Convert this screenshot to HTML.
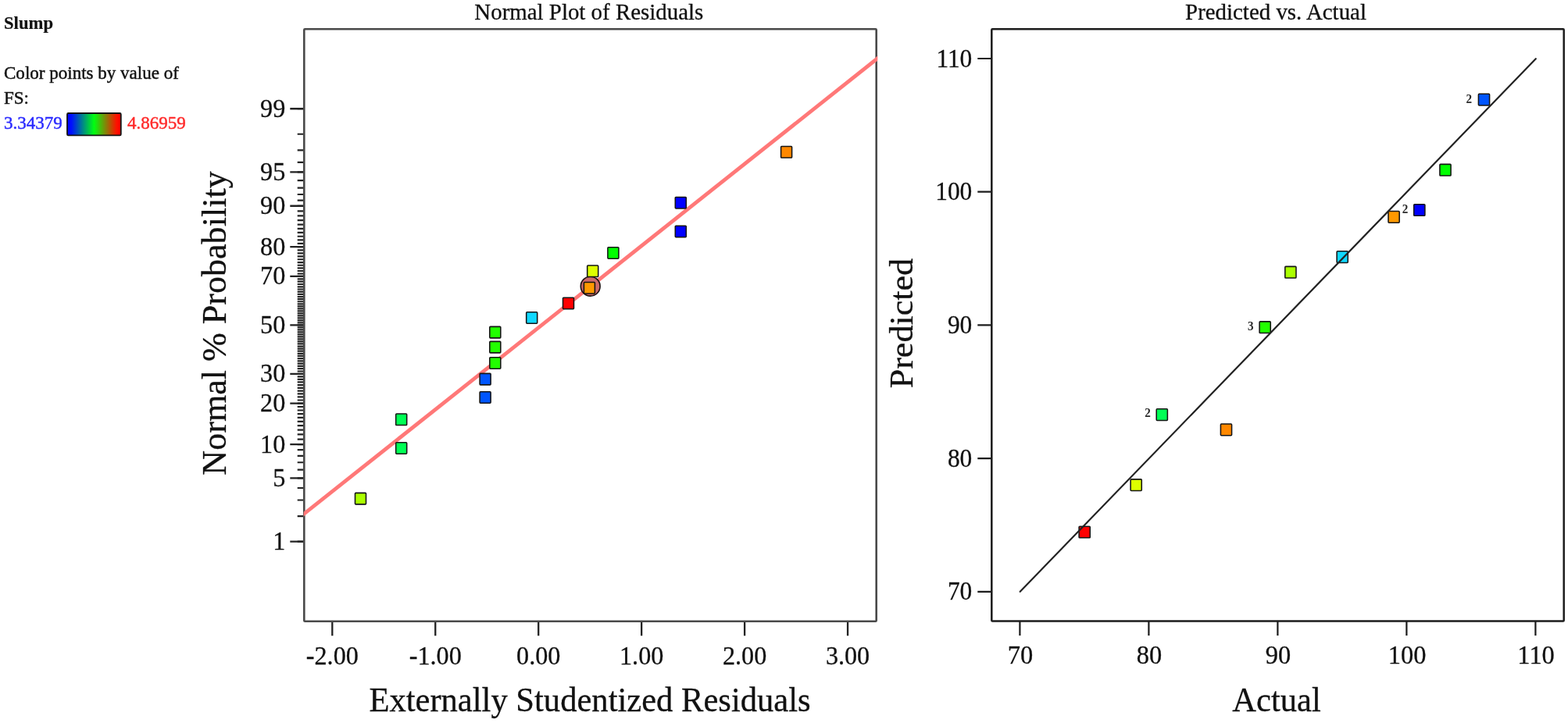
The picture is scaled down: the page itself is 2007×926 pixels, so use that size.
<!DOCTYPE html>
<html lang="en"><head><meta charset="utf-8"><title>Diagnostics: Slump</title>
<style>
html,body{margin:0;padding:0;background:#fff;}
body{width:2007px;height:926px;overflow:hidden;position:relative;font-family:"Liberation Serif", serif;}
svg{position:absolute;left:0;top:0;display:block;}
text{font-family:"Liberation Serif", serif;fill:#111;stroke:#111;stroke-width:.3px;stroke-linejoin:round;}
.tk{font-size:32.2px;}
.tr{font-size:32.5px;}
.ty{font-size:31.4px;}
.ax{font-size:42.6px;}
.tt{font-size:28.9px;}
.lg{font-size:23.05px;stroke-width:.45px;}
.ct{font-size:15.2px;font-weight:bold;fill:#2a2a2a;stroke:none;}
</style></head><body>
<svg width="2007" height="926" viewBox="0 0 2007 926">
<defs>
<linearGradient id="g" x1="0" y1="0" x2="1" y2="0">
<stop offset="0" stop-color="#0000ff"/><stop offset="0.08" stop-color="#0010ff"/><stop offset="0.5" stop-color="#00ff10"/><stop offset="0.92" stop-color="#ff1000"/><stop offset="1" stop-color="#ff0000"/>
</linearGradient>
</defs>
<rect width="2007" height="926" fill="#fff"/>

<text class="lg" transform="translate(5.00 36.80) scale(1 1.04)" style="font-weight:bold;font-size:22.7px;stroke-width:.2px">Slump</text>
<text class="lg" transform="translate(5.00 101.20) scale(1 1.04)">Color points by value of</text>
<text class="lg" transform="translate(5.00 133.40) scale(1 1.04)">FS:</text>
<text class="lg" transform="translate(5.00 164.80) scale(1 1.04)" style="fill:#2a2aff;stroke:#2a2aff">3.34379</text>
<rect x="86.0" y="145.0" width="68.8" height="28.4" rx="1.5" fill="url(#g)" stroke="#151515" stroke-width="1.8"/>
<text class="lg" transform="translate(163.00 164.80) scale(1 1.04)" style="fill:#ff2a2a;stroke:#ff2a2a">4.86959</text>
<text class="tt" transform="translate(753.80 25.20) scale(1 1.0)" text-anchor="middle">Normal Plot of Residuals</text>
<clipPath id="cl"><rect x="388.7" y="37.3" width="734.6000000000001" height="758.4000000000001"/></clipPath>
<path d="M380.70 693.58H389.30M380.70 661.10H389.30M380.70 640.50H389.30M380.70 625.00H389.30M380.70 612.39H389.30M380.70 601.66H389.30M380.70 592.25H389.30M380.70 583.82H389.30M380.70 576.16H389.30M380.70 569.10H389.30M380.70 562.55H389.30M380.70 556.41H389.30M380.70 550.62H389.30M380.70 545.13H389.30M380.70 539.90H389.30M380.70 534.90H389.30M380.70 530.10H389.30M380.70 525.48H389.30M380.70 521.01H389.30M380.70 516.69H389.30M380.70 512.50H389.30M380.70 508.42H389.30M380.70 504.45H389.30M380.70 500.57H389.30M380.70 496.78H389.30M380.70 493.07H389.30M380.70 489.43H389.30M380.70 485.86H389.30M380.70 482.35H389.30M380.70 478.90H389.30M380.70 475.50H389.30M380.70 472.14H389.30M380.70 468.83H389.30M380.70 465.56H389.30M380.70 462.33H389.30M380.70 459.13H389.30M380.70 455.96H389.30M380.70 452.81H389.30M380.70 449.70H389.30M380.70 446.60H389.30M380.70 443.53H389.30M380.70 440.47H389.30M380.70 437.43H389.30M380.70 434.41H389.30M380.70 431.39H389.30M380.70 428.39H389.30M380.70 425.39H389.30M380.70 422.40H389.30M380.70 419.41H389.30M380.70 416.42H389.30M380.70 413.43H389.30M380.70 410.44H389.30M380.70 407.45H389.30M380.70 404.45H389.30M380.70 401.45H389.30M380.70 398.43H389.30M380.70 395.41H389.30M380.70 392.37H389.30M380.70 389.31H389.30M380.70 386.24H389.30M380.70 383.14H389.30M380.70 380.03H389.30M380.70 376.88H389.30M380.70 373.71H389.30M380.70 370.51H389.30M380.70 367.28H389.30M380.70 364.01H389.30M380.70 360.70H389.30M380.70 357.34H389.30M380.70 353.94H389.30M380.70 350.49H389.30M380.70 346.98H389.30M380.70 343.41H389.30M380.70 339.77H389.30M380.70 336.06H389.30M380.70 332.27H389.30M380.70 328.39H389.30M380.70 324.42H389.30M380.70 320.34H389.30M380.70 316.15H389.30M380.70 311.83H389.30M380.70 307.36H389.30M380.70 302.74H389.30M380.70 297.94H389.30M380.70 292.94H389.30M380.70 287.71H389.30M380.70 282.22H389.30M380.70 276.43H389.30M380.70 270.29H389.30M380.70 263.74H389.30M380.70 256.68H389.30M380.70 249.02H389.30M380.70 240.59H389.30M380.70 231.18H389.30M380.70 220.45H389.30M380.70 207.84H389.30M380.70 192.34H389.30M380.70 171.74H389.30M380.70 139.26H389.30" stroke="#222" stroke-width="2.2" fill="none"/>
<text class="tk" transform="translate(365.30 703.98) scale(1 1.07)" text-anchor="end">1</text>
<text class="tk" transform="translate(365.30 622.79) scale(1 1.07)" text-anchor="end">5</text>
<text class="tk" transform="translate(365.30 579.50) scale(1 1.07)" text-anchor="end">10</text>
<text class="tk" transform="translate(365.30 527.09) scale(1 1.07)" text-anchor="end">20</text>
<text class="tk" transform="translate(365.30 489.30) scale(1 1.07)" text-anchor="end">30</text>
<text class="tk" transform="translate(365.30 426.82) scale(1 1.07)" text-anchor="end">50</text>
<text class="tk" transform="translate(365.30 364.34) scale(1 1.07)" text-anchor="end">70</text>
<text class="tk" transform="translate(365.30 326.55) scale(1 1.07)" text-anchor="end">80</text>
<text class="tk" transform="translate(365.30 274.14) scale(1 1.07)" text-anchor="end">90</text>
<text class="tk" transform="translate(365.30 230.85) scale(1 1.07)" text-anchor="end">95</text>
<text class="tk" transform="translate(365.30 149.66) scale(1 1.07)" text-anchor="end">99</text>
<path d="M371.30 693.58H389.30M371.30 612.39H389.30M371.30 569.10H389.30M371.30 516.69H389.30M371.30 478.90H389.30M371.30 416.42H389.30M371.30 353.94H389.30M371.30 316.15H389.30M371.30 263.74H389.30M371.30 220.45H389.30M371.30 139.26H389.30" stroke="#222" stroke-width="2.3" fill="none"/>
<text class="tk" transform="translate(425.30 850.80) scale(1 1.07)" text-anchor="middle">-2.00</text>
<text class="tk" transform="translate(557.25 850.80) scale(1 1.07)" text-anchor="middle">-1.00</text>
<text class="tk" transform="translate(689.20 850.80) scale(1 1.07)" text-anchor="middle">0.00</text>
<text class="tk" transform="translate(821.15 850.80) scale(1 1.07)" text-anchor="middle">1.00</text>
<text class="tk" transform="translate(953.10 850.80) scale(1 1.07)" text-anchor="middle">2.00</text>
<text class="tk" transform="translate(1085.05 850.80) scale(1 1.07)" text-anchor="middle">3.00</text>
<path d="M425.30 795.7V814.2M557.25 795.7V814.2M689.20 795.7V814.2M821.15 795.7V814.2M953.10 795.7V814.2M1085.05 795.7V814.2" stroke="#222" stroke-width="2.3" fill="none"/>
<rect x="389.3" y="37.3" width="732.40" height="758.40" rx="1" fill="none" stroke="#4a4a4a" stroke-width="2.6"/>
<line x1="384.3" y1="661.97" x2="1126.7" y2="72.03" stroke="#ff7878" stroke-width="4.8" clip-path="url(#cl)"/>
<text class="ax" transform="translate(755.00 911.30) scale(1 1.055)" text-anchor="middle">Externally Studentized Residuals</text>
<text class="ax" transform="translate(289.20 414.00) rotate(-90) scale(1.035 1.04)" text-anchor="middle">Normal % Probability</text>
<circle cx="755.7" cy="366.7" r="12.4" fill="#cc6a6a" stroke="#1a1010" stroke-width="1.6"/>
<rect x="454.50" y="631.35" width="14.0" height="14.5" rx="0.9" fill="#aaff00" stroke="#141414" stroke-width="1.55"/>
<rect x="506.70" y="566.75" width="14.0" height="14.5" rx="0.9" fill="#00ff55" stroke="#141414" stroke-width="1.55"/>
<rect x="506.70" y="530.05" width="14.0" height="14.5" rx="0.9" fill="#00ff55" stroke="#141414" stroke-width="1.55"/>
<rect x="614.10" y="501.75" width="14.0" height="14.5" rx="0.9" fill="#0055ff" stroke="#141414" stroke-width="1.55"/>
<rect x="614.10" y="478.35" width="14.0" height="14.5" rx="0.9" fill="#0055ff" stroke="#141414" stroke-width="1.55"/>
<rect x="626.80" y="457.65" width="14.0" height="14.5" rx="0.9" fill="#22ff00" stroke="#141414" stroke-width="1.55"/>
<rect x="626.80" y="437.35" width="14.0" height="14.5" rx="0.9" fill="#22ff00" stroke="#141414" stroke-width="1.55"/>
<rect x="626.80" y="418.35" width="14.0" height="14.5" rx="0.9" fill="#22ff00" stroke="#141414" stroke-width="1.55"/>
<rect x="673.70" y="399.75" width="14.0" height="14.5" rx="0.9" fill="#10d8ff" stroke="#141414" stroke-width="1.55"/>
<rect x="720.50" y="381.15" width="14.0" height="14.5" rx="0.9" fill="#ff0000" stroke="#141414" stroke-width="1.55"/>
<rect x="747.40" y="361.45" width="14.0" height="14.5" rx="0.9" fill="#ff9900" stroke="#141414" stroke-width="1.55"/>
<rect x="751.70" y="340.05" width="14.0" height="14.5" rx="0.9" fill="#ddff00" stroke="#141414" stroke-width="1.55"/>
<rect x="777.90" y="316.65" width="14.0" height="14.5" rx="0.9" fill="#00ff00" stroke="#141414" stroke-width="1.55"/>
<rect x="864.30" y="289.15" width="14.0" height="14.5" rx="0.9" fill="#0000ff" stroke="#141414" stroke-width="1.55"/>
<rect x="864.30" y="252.45" width="14.0" height="14.5" rx="0.9" fill="#0000ff" stroke="#141414" stroke-width="1.55"/>
<rect x="999.60" y="187.55" width="14.0" height="14.5" rx="0.9" fill="#ff8800" stroke="#141414" stroke-width="1.55"/>
<text class="tt" transform="translate(1633.00 25.20) scale(1 1.0)" text-anchor="middle">Predicted vs. Actual</text>
<text class="ty" transform="translate(1244.30 768.40) scale(1 1.07)" text-anchor="end">70</text>
<text class="tr" transform="translate(1306.10 850.30) scale(1 1.02)" text-anchor="middle">70</text>
<text class="ty" transform="translate(1244.30 597.70) scale(1 1.07)" text-anchor="end">80</text>
<text class="tr" transform="translate(1471.10 850.30) scale(1 1.02)" text-anchor="middle">80</text>
<text class="ty" transform="translate(1244.30 427.00) scale(1 1.07)" text-anchor="end">90</text>
<text class="tr" transform="translate(1636.10 850.30) scale(1 1.02)" text-anchor="middle">90</text>
<text class="ty" transform="translate(1244.30 256.30) scale(1 1.07)" text-anchor="end">100</text>
<text class="tr" transform="translate(1801.10 850.30) scale(1 1.02)" text-anchor="middle">100</text>
<text class="ty" transform="translate(1244.30 85.60) scale(1 1.07)" text-anchor="end">110</text>
<text class="tr" transform="translate(1966.10 850.30) scale(1 1.02)" text-anchor="middle">110</text>
<path d="M1251.30 757.80H1269.30M1305.40 795.5V814.0M1251.30 587.10H1269.30M1470.40 795.5V814.0M1251.30 416.40H1269.30M1635.40 795.5V814.0M1251.30 245.70H1269.30M1800.40 795.5V814.0M1251.30 75.00H1269.30M1965.40 795.5V814.0" stroke="#1c1c1c" stroke-width="2.2" fill="none"/>
<rect x="1269.3" y="37.3" width="732.40" height="758.20" rx="1" fill="none" stroke="#1c1c1c" stroke-width="2.5"/>
<text class="ax" transform="translate(1634.00 911.20) scale(1 1.055)" text-anchor="middle">Actual</text>
<text class="ax" transform="translate(1168.20 414.10) rotate(-90) scale(1.035 1.0)" text-anchor="middle">Predicted</text>
<rect x="1381.12" y="674.17" width="14.15" height="14.65" rx="0.9" fill="#ff0000" stroke="#141414" stroke-width="1.55"/>
<rect x="1447.12" y="613.87" width="14.15" height="14.65" rx="0.9" fill="#ddff00" stroke="#141414" stroke-width="1.55"/>
<rect x="1480.22" y="523.77" width="14.15" height="14.65" rx="0.9" fill="#00ff55" stroke="#141414" stroke-width="1.55"/>
<text class="ct" transform="translate(1469.00 534.30) scale(1 1.05)" text-anchor="middle">2</text>
<rect x="1562.42" y="543.07" width="14.15" height="14.65" rx="0.9" fill="#ff8800" stroke="#141414" stroke-width="1.55"/>
<rect x="1612.12" y="411.88" width="14.15" height="14.65" rx="0.9" fill="#22ff00" stroke="#141414" stroke-width="1.55"/>
<text class="ct" transform="translate(1600.70 422.60) scale(1 1.05)" text-anchor="middle">3</text>
<rect x="1644.83" y="341.38" width="14.15" height="14.65" rx="0.9" fill="#aaff00" stroke="#141414" stroke-width="1.55"/>
<rect x="1711.12" y="321.77" width="14.15" height="14.65" rx="0.9" fill="#10d8ff" stroke="#141414" stroke-width="1.55"/>
<rect x="1777.02" y="270.57" width="14.15" height="14.65" rx="0.9" fill="#ff9900" stroke="#141414" stroke-width="1.55"/>
<text class="ct" transform="translate(1798.50 273.20) scale(1 1.05)" text-anchor="middle">2</text>
<rect x="1809.72" y="261.68" width="14.15" height="14.65" rx="0.9" fill="#0000ff" stroke="#141414" stroke-width="1.55"/>
<rect x="1842.92" y="210.38" width="14.15" height="14.65" rx="0.9" fill="#00ff00" stroke="#141414" stroke-width="1.55"/>
<rect x="1892.42" y="120.28" width="14.15" height="14.65" rx="0.9" fill="#0055ff" stroke="#141414" stroke-width="1.55"/>
<text class="ct" transform="translate(1880.20 132.20) scale(1 1.05)" text-anchor="middle">2</text>
<line x1="1305.7" y1="757.8" x2="1965.8" y2="75.2" stroke="#222" stroke-width="2.2" stroke-linecap="round"/>
</svg></body></html>
